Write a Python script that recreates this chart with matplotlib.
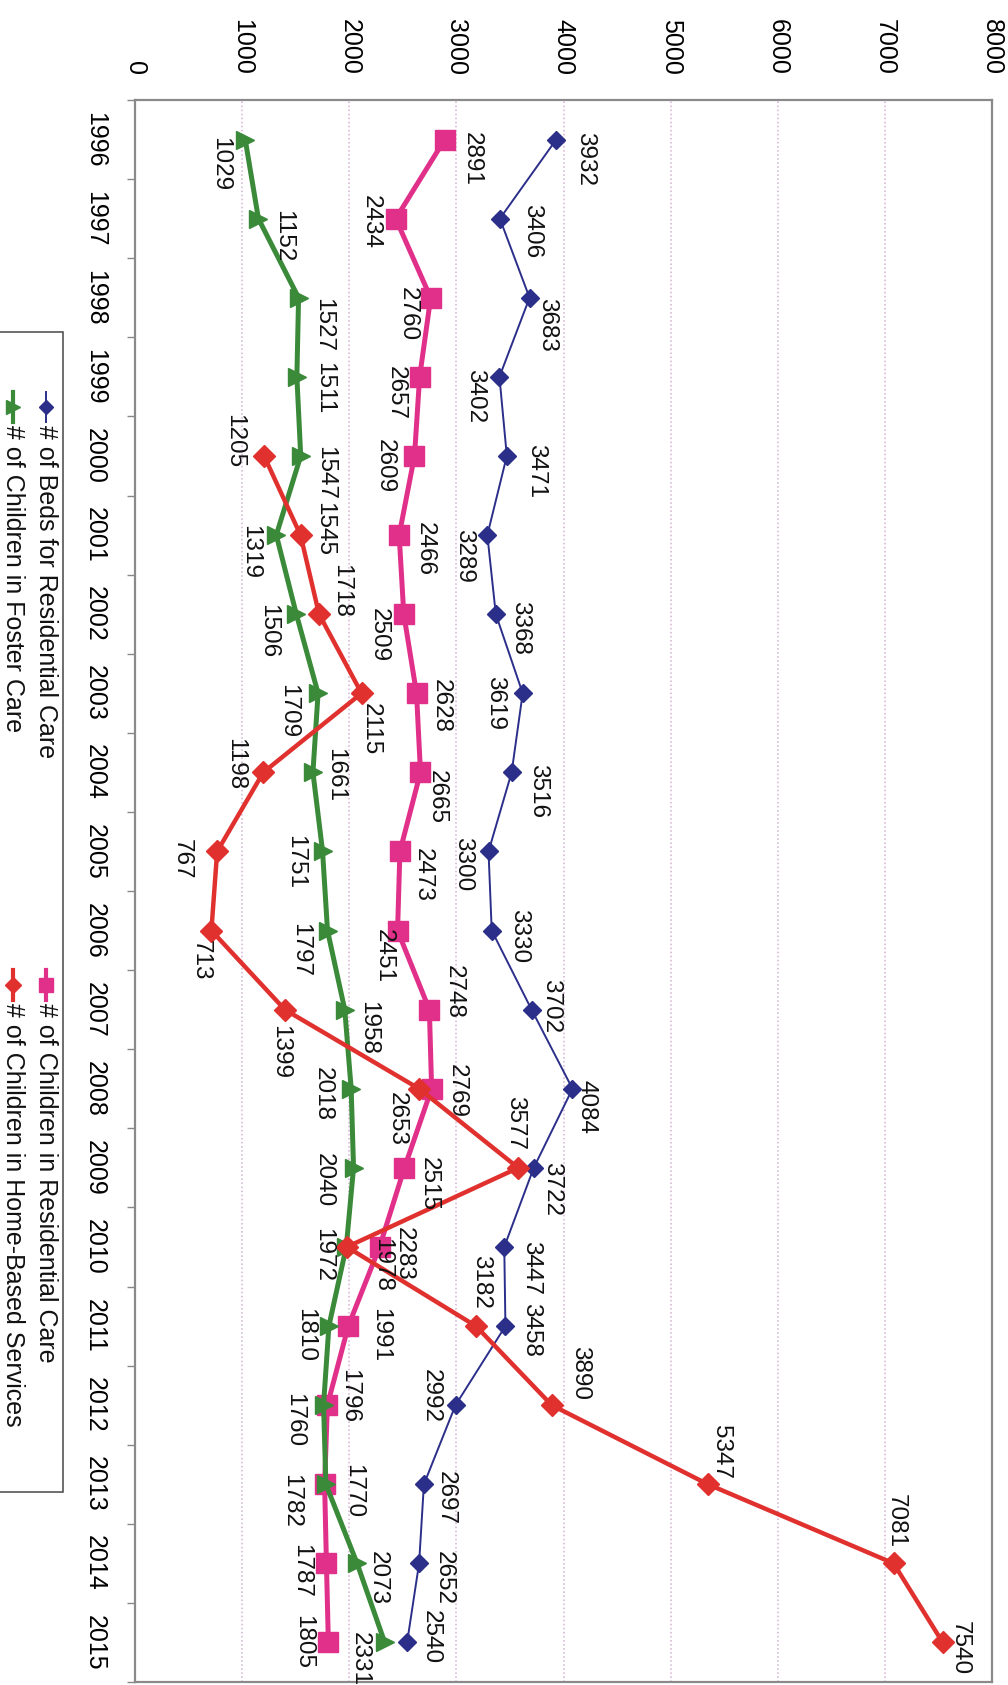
import numpy as np
import matplotlib.pyplot as plt
from matplotlib.patches import Rectangle
from matplotlib.lines import Line2D

plt.rcParams['font.family'] = ['Liberation Sans', 'DejaVu Sans']

# data
years = list(range(1996, 2016))
beds_residential = [3932, 3406, 3683, 3402, 3471, 3289, 3368, 3619, 3516, 3300,
                    3330, 3702, 4084, 3722, 3447, 3458, 2992, 2697, 2652, 2540]
children_residential = [2891, 2434, 2760, 2657, 2609, 2466, 2509, 2628, 2665, 2473,
                        2451, 2748, 2769, 2515, 2283, 1991, 1796, 1770, 1787, 1805]
children_foster = [1029, 1152, 1527, 1511, 1547, 1319, 1506, 1709, 1661, 1751,
                   1797, 1958, 2018, 2040, 1972, 1810, 1760, 1782, 2073, 2331]
home_years = list(range(2000, 2016))
children_home_based = [1205, 1545, 1718, 2115, 1198, 767, 713, 1399, 2653, 3577,
                       1978, 3182, 3890, 5347, 7081, 7540]
series_names = ['# of Beds for Residential Care', '# of Children in Residential Care',
                '# of Children in Foster Care', '# of Children in Home-Based Services']
value_ticks = list(range(0, 9000, 1000))

# label offsets in pixels (dx right, dy down) -- layout only
off_beds = [(29, 19), (32, 12), (18, 27), (-24, 19), (29, 15), (-23, 21), (24, 14), (-28, 10),
            (26, 19), (-25, 13), (27, 6), (19, -4), (14, 18), (18, 21), (27, 21), (26, 4),
            (-25, -9), (22, 14), (25, 15), (24, -5)]
off_res = [(27, 19), (-25, 3), (-23, 16), (-24, 16), (-30, 10), (26, 14), (-25, 21), (24, 13),
           (16, 25), (23, 24), (-14, 25), (24, -18), (25, 2), (24, 16), (24, 7), (32, 9),
           (22, -9), (29, 7), (-25, 8), (-25, 0)]
off_foster = [(-25, 25), (25, 17), (25, 27), (27, 11), (24, 17), (-26, 17), (-28, 17), (-30, 18),
              (22, 3), (-27, 11), (-27, 19), (23, 18), (-28, 5), (-30, 12), (-23, 8), (-24, 9),
              (-29, 15), (-35, 17), (21, 15), (-25, 17)]
off_home = [(-30, -15), (24, -6), (22, -23), (9, 36), (-28, -8), (-35, 8), (-11, 30), (-5, 42),
            (-22, 30), (-3, -45), (35, 18), (5, -44), (28, -32), (13, -32), (2, -42), (17, 6)]

W, H = 1008, 1685
fig = plt.figure(figsize=(W / 100, H / 100), dpi=100)
ax = fig.add_axes([135 / W, 1 - 1682 / H, 857 / W, 1582 / H])

blue = '#2b2f8a'
pink = '#e0308a'
green = '#3a8a3a'
red = '#e0312f'

ax.plot(beds_residential, years, color=blue, lw=1.4, marker='D', ms=9, zorder=3)
ax.plot(children_residential, years, color=pink, lw=3.6, marker='s', ms=14, zorder=4)
ax.plot(children_foster, years, color=green, lw=3.6, marker='>', ms=13, zorder=5)
ax.plot(children_home_based, home_years, color=red, lw=3.2, marker='D', ms=11, zorder=6)

for vals, yrs, offs in [(beds_residential, years, off_beds),
                        (children_residential, years, off_res),
                        (children_foster, years, off_foster),
                        (children_home_based, home_years, off_home)]:
    for v, yr, (dx, dy) in zip(vals, yrs, offs):
        ax.annotate(str(v), (v, yr), xytext=(dx, -dy), textcoords='offset pixels',
                    rotation=-90, ha='center', va='center', fontsize=17.5,
                    color='#111111', zorder=8, annotation_clip=False)

ax.set_xlim(0, 8000)
ax.set_ylim(2015.5, 1995.5)
ax.xaxis.tick_top()
ax.set_xticks(value_ticks)
ax.set_xticklabels([str(t) for t in value_ticks])
ax.tick_params(axis='x', length=0, pad=18, labelsize=18, labelrotation=-90)
ax.set_yticks(years)
ax.set_yticklabels([str(y) for y in years])
ax.tick_params(axis='y', which='major', length=0, pad=20, labelsize=18)
ax.set_yticks(np.arange(1995.5, 2016, 1), minor=True)
ax.tick_params(axis='y', which='minor', length=6, width=1, color='#888888')
for lbl in ax.get_yticklabels():
    lbl.set_rotation(-90)
    lbl.set_va('center')
ax.grid(axis='x', color='#d4b0d4', linestyle=':', linewidth=1.1)
for s in ax.spines.values():
    s.set_color('#8a8a8a')
    s.set_linewidth(1.6)

# legend drawn manually (rotated layout)
lg = fig.add_axes([0, 0, 1, 1], facecolor='none')
lg.set_xlim(0, W)
lg.set_ylim(H, 0)
lg.axis('off')
lg.add_patch(Rectangle((-5, 332), 68, 1160, facecolor='white', edgecolor='#555555', lw=1.2))
entries = [(46, 392, blue, 'D', 7, 1.4), (46, 970, pink, 's', 10, 3.0),
           (13, 392, green, '>', 10, 3.0), (13, 970, red, 'D', 8, 3.0)]
for name, (x, y0, c, m, ms, lw) in zip(series_names, entries):
    lg.add_line(Line2D([x, x], [y0, y0 + 30], color=c, lw=lw))
    lg.add_line(Line2D([x], [y0 + 15], color=c, marker=m, ms=ms, lw=0))
    lg.text(x, y0 + 33, name, rotation=-90, ha='center', va='top', fontsize=18,
            color='#111111')

fig.savefig('out.png', dpi=100)
